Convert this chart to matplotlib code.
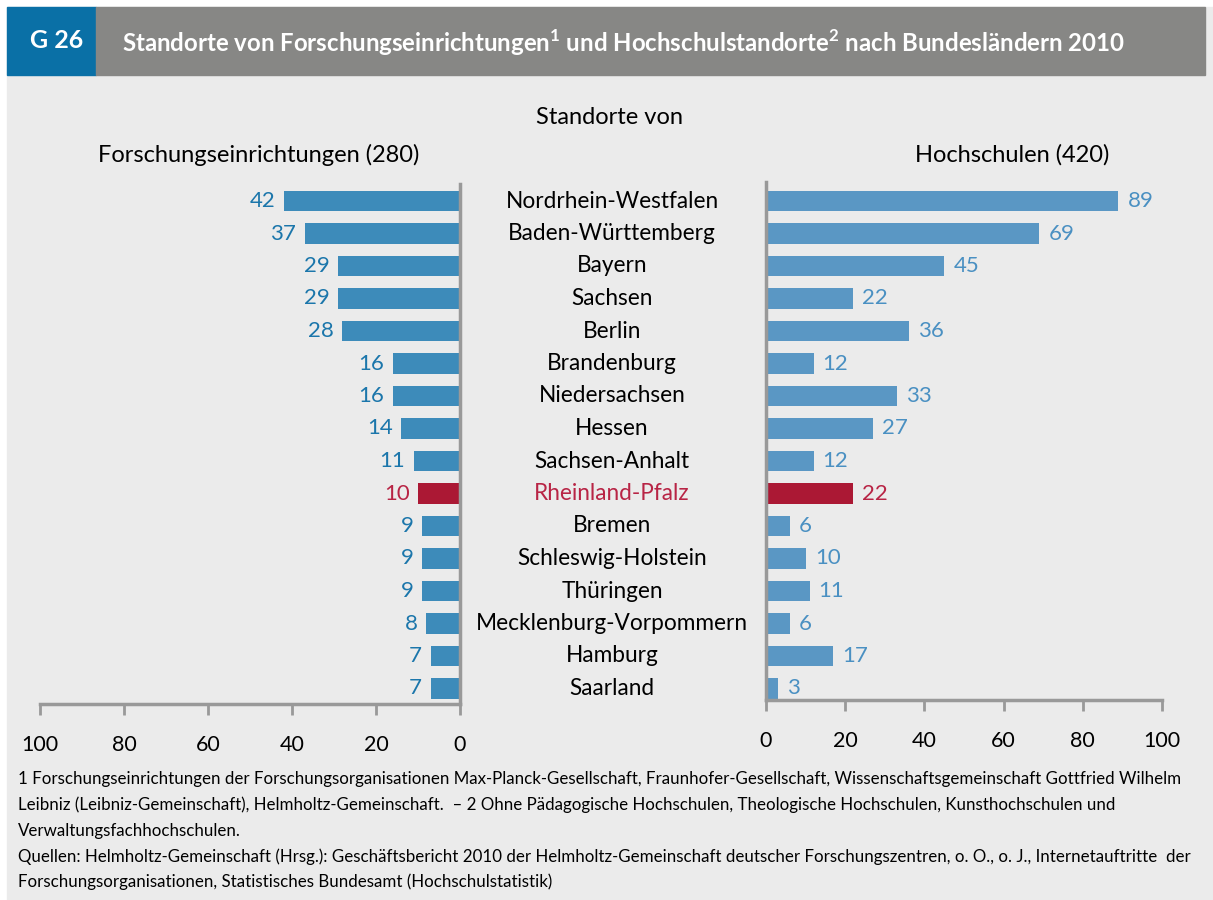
import matplotlib
matplotlib.use("Agg")
import matplotlib.pyplot as plt
from matplotlib.patches import Rectangle
from matplotlib.transforms import blended_transform_factory

plt.rcParams["font.family"] = ["Lato", "DejaVu Sans"]

laender = ["Nordrhein-Westfalen", "Baden-Württemberg", "Bayern", "Sachsen", "Berlin",
           "Brandenburg", "Niedersachsen", "Hessen", "Sachsen-Anhalt", "Rheinland-Pfalz",
           "Bremen", "Schleswig-Holstein", "Thüringen", "Mecklenburg-Vorpommern",
           "Hamburg", "Saarland"]
forschung = [42, 37, 29, 29, 28, 16, 16, 14, 11, 10, 9, 9, 9, 8, 7, 7]
hochschulen = [89, 69, 45, 22, 36, 12, 33, 27, 12, 22, 6, 10, 11, 6, 17, 3]
highlight = "Rheinland-Pfalz"
ticks = [0, 20, 40, 60, 80, 100]

BG = "#ebebeb"
LEFT_BAR = "#3d8bba"
RIGHT_BAR = "#5a97c4"
LEFT_TXT = "#1b76ab"
RIGHT_TXT = "#4a90c2"
RED = "#ab1834"
RED_TXT = "#b82445"
AXC = "#999999"

W, H = 1213, 900
fig = plt.figure(figsize=(W / 100, H / 100), dpi=100, facecolor="white")


def fx(px):
    return px / W


def fy(py):
    return 1 - py / H


# background + header
fig.patches.append(Rectangle((fx(7), 0), 1, fy(7), transform=fig.transFigure,
                             color=BG, zorder=-10))
fig.patches.append(Rectangle((fx(7), fy(75)), fx(96 - 7), fy(7) - fy(75),
                             transform=fig.transFigure, color="#0a70a6", zorder=-5))
fig.patches.append(Rectangle((fx(96), fy(75)), fx(1205 - 96), fy(7) - fy(75),
                             transform=fig.transFigure, color="#878785", zorder=-5))
fig.text(fx(57), fy(41), "G 26", color="white", fontsize=18, fontweight="bold",
         ha="center", va="center")
fig.text(fx(122), fy(43),
         r"Standorte von Forschungseinrichtungen$^{\mathregular{1}}$ und Hochschulstandorte$^{\mathregular{2}}$ nach Bundesländern 2010",
         color="white", fontsize=17.3, fontweight="bold", ha="left", va="center")

fig.text(fx(610), fy(117), "Standorte von", fontsize=17, ha="center", va="center")
fig.text(fx(259), fy(155), "Forschungseinrichtungen (280)", fontsize=17, ha="center", va="center")
fig.text(fx(1012), fy(155), "Hochschulen (420)", fontsize=17, ha="center", va="center")

n = len(laender)
rows = list(range(n))

axl = fig.add_axes([fx(40), fy(704), fx(460 - 40), fy(184) - fy(704)])
axr = fig.add_axes([fx(766), fy(700), fx(1162 - 766), fy(182) - fy(700)])

for ax in (axl, axr):
    ax.set_facecolor("none")
    for s in ax.spines.values():
        s.set_visible(False)
    ax.set_xticks(ticks)
    ax.set_yticks([])
    ax.tick_params(axis="x", length=8, width=2, color=AXC, labelsize=15.5, pad=14)

axl.set_xlim(100, 0)
axl.set_ylim((704 - 201) / 32.5, (184 - 201) / 32.5)
for side in ("bottom", "right"):
    axl.spines[side].set_visible(True)
    axl.spines[side].set_color(AXC)
    axl.spines[side].set_linewidth(2.5)

axr.set_xlim(0, 100)
axr.set_ylim((700 - 201) / 32.5, (182 - 201) / 32.5)
for side in ("bottom", "left"):
    axr.spines[side].set_visible(True)
    axr.spines[side].set_color(AXC)
    axr.spines[side].set_linewidth(2.5)

lcols = [RED if l == highlight else LEFT_BAR for l in laender]
rcols = [RED if l == highlight else RIGHT_BAR for l in laender]
axl.barh(rows, forschung, height=0.62, color=lcols, zorder=2)
axr.barh(rows, hochschulen, height=0.62, color=rcols, zorder=2)

for i, (l, v, h) in enumerate(zip(laender, forschung, hochschulen)):
    hi = l == highlight
    axl.text(v + 2, i, str(v), ha="right", va="center", fontsize=16,
             color=RED_TXT if hi else LEFT_TXT)
    axr.text(h + 2.3, i, str(h), ha="left", va="center", fontsize=16,
             color=RED_TXT if hi else RIGHT_TXT)

tr = blended_transform_factory(fig.transFigure, axr.transData)
for i, l in enumerate(laender):
    axr.text(fx(612), i, l, transform=tr, ha="center", va="center", fontsize=16.3,
             color=RED_TXT if l == highlight else "black", clip_on=False)

notes = [
    "1 Forschungseinrichtungen der Forschungsorganisationen Max-Planck-Gesellschaft, Fraunhofer-Gesellschaft, Wissenschaftsgemeinschaft Gottfried Wilhelm",
    "Leibniz (Leibniz-Gemeinschaft), Helmholtz-Gemeinschaft.  – 2 Ohne Pädagogische Hochschulen, Theologische Hochschulen, Kunsthochschulen und",
    "Verwaltungsfachhochschulen.",
    "Quellen: Helmholtz-Gemeinschaft (Hrsg.): Geschäftsbericht 2010 der Helmholtz-Gemeinschaft deutscher Forschungszentren, o. O., o. J., Internetauftritte  der",
    "Forschungsorganisationen, Statistisches Bundesamt (Hochschulstatistik)",
]
for k, t in enumerate(notes):
    fig.text(fx(18), fy(779 + 25.8 * k), t, fontsize=12.2, ha="left", va="center")

fig.savefig("out.png", dpi=100, facecolor=fig.get_facecolor())
